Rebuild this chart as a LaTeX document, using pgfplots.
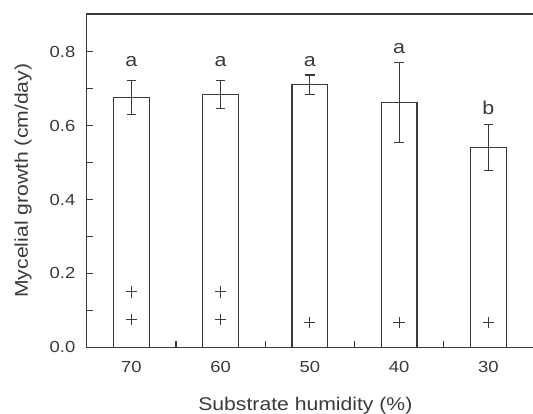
\documentclass[border=0pt]{standalone}
\usepackage{fontspec}
\setmainfont{Liberation Sans}[FakeStretch=1.15]
\usepackage{pgfplots}
\pgfplotsset{compat=1.18}
\definecolor{ink}{HTML}{3A3A3A}

\begin{document}
\begin{tikzpicture}
% the right frame line lies just beyond the page edge, as in the cropped original
\begin{axis}[
  scale only axis,
  width=336.7pt, height=250pt,
  xmin=-0.5, xmax=4.53,
  ymin=0, ymax=0.902,
  axis line style={ink, line width=0.9pt},
  tick align=inside, tick pos=left,
  tick style={ink, line width=0.9pt},
  major tick length=5pt, minor tick length=5pt,
  ytick={0,0.2,0.4,0.6,0.8},
  minor ytick={0.1,0.3,0.5,0.7},
  xtick={0.5,1.5,2.5,3.5},
  xticklabels={},
  xtick style={ink, line width=1pt},
  extra x ticks={0,1,2,3,4},
  extra x tick labels={70,60,50,40,30},
  extra x tick style={tick style={draw=none}},
  /pgf/number format/assume math mode=true,
  yticklabel style={/pgf/number format/fixed, /pgf/number format/fixed zerofill,
    /pgf/number format/precision=1, xshift=-5pt},
  tick label style={font=\fontsize{12}{14}\selectfont, text=ink},
  xticklabel style={yshift=-7pt},
  xlabel={Substrate humidity (\%)},
  ylabel={Mycelial growth (cm/day)},
  label style={font=\fontsize{13.8}{16}\selectfont, text=ink, inner sep=0pt},
  xlabel style={at={(axis cs:1.95,0)}, yshift=-37pt, anchor=north},
  ylabel style={at={(axis description cs:-0.1418,0.5)}, anchor=center},
]
% bars with standard deviation
\addplot[ybar, bar width=0.4, fill=white, draw=ink, line width=0.9pt,
  error bars/.cd, y dir=both, y explicit,
  error bar style={ink, line width=0.8pt},
  error mark options={rotate=90, mark size=3.5pt, ink, line width=0.8pt}]
  coordinates {
  (0,0.677) +- (0,0.046)
  (1,0.684) +- (0,0.038)
  (2,0.711) +- (0,0.026)
  (3,0.662) +- (0,0.108)
  (4,0.540) +- (0,0.062)
};
% plus markers
\addplot[only marks, mark=+, mark size=4.2pt, ink, line width=0.7pt]
  coordinates {
  (0,0.150) (0,0.0758) (1,0.150) (1,0.0758)
  (2,0.0666) (3,0.0666) (4,0.0666)
};
% significance letters
\begin{scope}[every node/.style={font=\fontsize{14}{16}\selectfont, text=ink, anchor=base}]
\node at (axis cs:0,0.759) {a};
\node at (axis cs:1,0.759) {a};
\node at (axis cs:2,0.759) {a};
\node at (axis cs:3,0.796) {a};
\node at (axis cs:4,0.629) {b};
\end{scope}
\end{axis}
\pgfresetboundingbox
\path[use as bounding box] ([xshift=-65pt,yshift=-49.3pt]current axis.south west)
  rectangle ([xshift=334.7pt,yshift=260.5pt]current axis.south west);
\end{tikzpicture}
\end{document}
